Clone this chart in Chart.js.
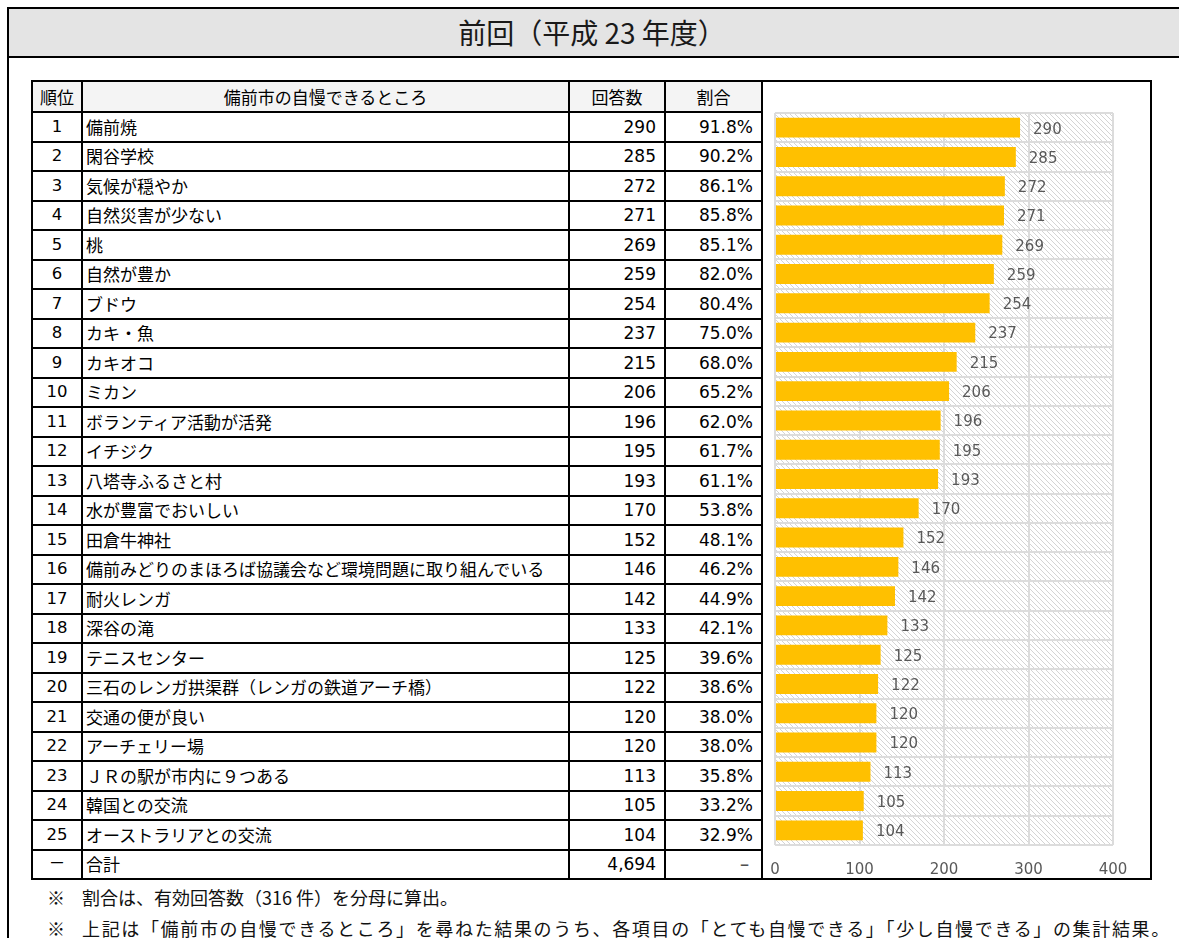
<!DOCTYPE html>
<html lang="ja">
<head>
<meta charset="utf-8">
<script src="https://cdn.jsdelivr.net/npm/chart.js@4.4.1/dist/chart.umd.min.js"></script>
<style>
  html,body{margin:0;padding:0;background:#fff;width:1179px;height:938px;overflow:hidden;}
  body{font-family:"Noto Sans CJK JP","Noto Sans",sans-serif;color:#000;position:relative;}
  #frame{position:absolute;left:7px;top:7px;width:1200px;height:1000px;border:2px solid #000;box-sizing:border-box;}
  #titlebar{position:absolute;left:0;top:0;right:0;height:49px;background:#e4e4e4;border-bottom:2px solid #000;box-sizing:border-box;}
  #title{position:absolute;left:0;width:1166px;top:0;height:47px;line-height:47px;text-align:center;font-size:28px;color:#1a1a1a;}
  #tbl{position:absolute;left:31px;top:80px;border-collapse:collapse;table-layout:fixed;}
  #tbl td{border:2px solid #000;padding:0;font-size:17px;line-height:20px;white-space:nowrap;overflow:hidden;}
  #tbl tr.head td{height:29px;text-align:center;background:#f4f4f4;}
  #tbl tr.row td{height:27.5px;}
  .rk{text-align:center;font-family:"DejaVu Sans","Noto Sans CJK JP",sans-serif;font-size:16.5px !important;}
  .it{text-align:left;padding-left:3px !important;}
  .num{text-align:right;padding-right:8px !important;font-family:"DejaVu Sans",sans-serif;font-size:17px !important;}
  #chartbox{position:absolute;left:761px;top:80px;width:391px;height:800px;border-top:2px solid #000;border-right:2px solid #000;border-bottom:2px solid #000;box-sizing:border-box;}
  #cw{position:absolute;left:763px;top:82px;width:386px;height:796px;}
  .note{position:absolute;left:47px;font-size:18px;line-height:26px;color:#111;white-space:nowrap;}
  .note .m{display:inline-block;width:35px;letter-spacing:0;}
</style>
</head>
<body>
<div id="frame">
  <div id="titlebar"><div id="title">前回（平成 23 年度）</div></div>
</div>
<table id="tbl">
  <colgroup><col style="width:50px"><col style="width:487px"><col style="width:96px"><col style="width:97px"></colgroup>
  <tbody id="tb"></tbody>
</table>
<div id="chartbox"></div>
<div id="cw"><canvas id="c"></canvas></div>
<div class="note" style="top:884px;"><span class="m">※</span>割合は、有効回答数（316 件）を分母に算出。</div>
<div class="note" style="top:915px;letter-spacing:1.65px;"><span class="m">※</span>上記は「備前市の自慢できるところ」を尋ねた結果のうち、各項目の「とても自慢できる」「少し自慢できる」の集計結果。</div>
<script>
// ---- Data ----
const headers = ["順位", "備前市の自慢できるところ", "回答数", "割合"];
const ranks = ["1","2","3","4","5","6","7","8","9","10","11","12","13","14","15","16","17","18","19","20","21","22","23","24","25"];
const items = ["備前焼","閑谷学校","気候が穏やか","自然災害が少ない","桃","自然が豊か","ブドウ","カキ・魚","カキオコ","ミカン","ボランティア活動が活発","イチジク","八塔寺ふるさと村","水が豊富でおいしい","田倉牛神社","備前みどりのまほろば協議会など環境問題に取り組んでいる","耐火レンガ","深谷の滝","テニスセンター","三石のレンガ拱渠群（レンガの鉄道アーチ橋）","交通の便が良い","アーチェリー場","ＪＲの駅が市内に９つある","韓国との交流","オーストラリアとの交流"];
const counts = [290,285,272,271,269,259,254,237,215,206,196,195,193,170,152,146,142,133,125,122,120,120,113,105,104];
const percents = ["91.8%","90.2%","86.1%","85.8%","85.1%","82.0%","80.4%","75.0%","68.0%","65.2%","62.0%","61.7%","61.1%","53.8%","48.1%","46.2%","44.9%","42.1%","39.6%","38.6%","38.0%","38.0%","35.8%","33.2%","32.9%"];
const totalRow = ["－", "合計", "4,694", "－"];
const xTicks = [0, 100, 200, 300, 400];

// ---- Table ----
const tb = document.getElementById('tb');
function addRow(cells, cls){
  const tr = document.createElement('tr');
  tr.className = cls;
  const classes = cls === 'head' ? ['', '', '', ''] : ['rk','it','num','num'];
  cells.forEach((t,i)=>{
    const td = document.createElement('td');
    td.textContent = t;
    if (classes[i]) td.className = classes[i];
    tr.appendChild(td);
  });
  tb.appendChild(tr);
}
addRow(headers, 'head');
for (let i = 0; i < items.length; i++) addRow([ranks[i], items[i], counts[i], percents[i]], 'row');
addRow(totalRow, 'row');

// ---- Chart ----
function makeHatch(){
  const s = 5;
  const p = document.createElement('canvas');
  p.width = s; p.height = s;
  const g = p.getContext('2d');
  g.fillStyle = '#ffffff';
  g.fillRect(0,0,s,s);
  g.strokeStyle = '#d4d4d4';
  g.lineWidth = 1;
  g.beginPath();
  g.moveTo(-1,-1); g.lineTo(s+1,s+1);
  g.moveTo(-1,s-1); g.lineTo(1,s+1);
  g.moveTo(s-1,-1); g.lineTo(s+1,1);
  g.stroke();
  return g.createPattern(p,'repeat');
}
const hatchPlugin = {
  id:'hatch',
  beforeDraw(chart){
    const {ctx, chartArea:a} = chart;
    ctx.save();
    ctx.fillStyle = makeHatch();
    ctx.fillRect(a.left, a.top, a.right-a.left, a.bottom-a.top);
    ctx.restore();
  }
};
const labelPlugin = {
  id:'vals',
  afterDatasetsDraw(chart){
    const {ctx} = chart;
    const meta = chart.getDatasetMeta(0);
    const data = chart.data.datasets[0].data;
    ctx.save();
    ctx.font = '15px "DejaVu Sans", sans-serif';
    ctx.fillStyle = '#595959';
    ctx.textAlign = 'left';
    ctx.textBaseline = 'middle';
    meta.data.forEach((bar,i)=>{
      ctx.fillText(String(data[i]), bar.x + 13, bar.y + 2);
    });
    ctx.restore();
  }
};

new Chart(document.getElementById('c'), {
  type:'bar',
  data:{
    labels: items,
    datasets:[{data: counts, backgroundColor:'#FFC000', borderWidth:0, categoryPercentage:1, barPercentage:0.68}]
  },
  options:{
    indexAxis:'y',
    responsive:true,
    maintainAspectRatio:false,
    animation:false,
    layout:{padding:{left:12, right:36, top:31, bottom:0}},
    plugins:{legend:{display:false}, tooltip:{enabled:false}},
    scales:{
      x:{
        min:0, max:400,
        afterBuildTicks(scale){ scale.ticks = xTicks.map(v=>({value:v})); },
        afterFit(scale){ scale.height = 33; scale.paddingLeft = 0; scale.paddingRight = 0; },
        grid:{color:'#dcdcdc', lineWidth:2, drawTicks:false},
        border:{display:false},
        ticks:{color:'#595959', font:{family:'"DejaVu Sans", sans-serif', size:15}, padding:16, maxRotation:0, autoSkip:false}
      },
      y:{
        afterFit(scale){ scale.width = 0; },
        grid:{color:'#dcdcdc', lineWidth:2, drawTicks:false, offset:true},
        border:{display:false},
        ticks:{display:false}
      }
    }
  },
  plugins:[hatchPlugin, labelPlugin]
});
</script>
</body>
</html>
